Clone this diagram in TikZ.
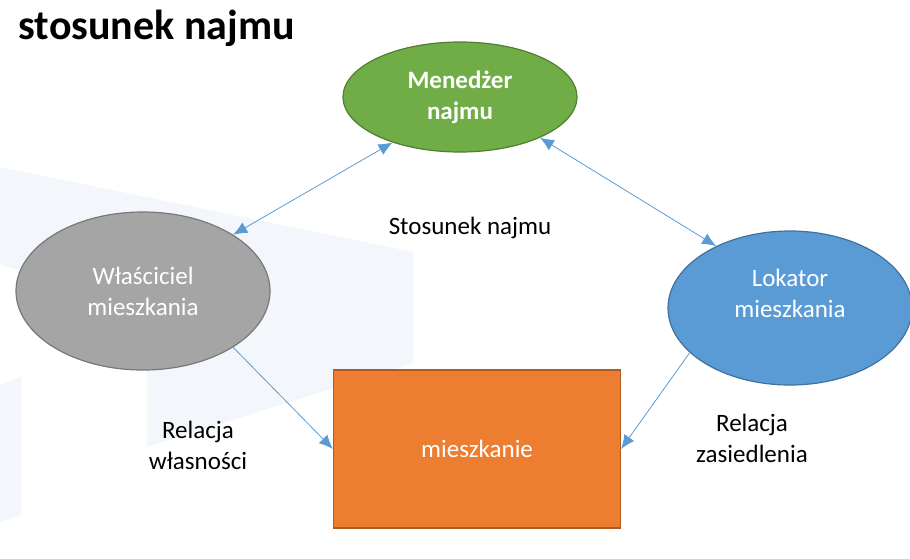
\documentclass[tikz,border=0pt]{standalone}
\usepackage{fontspec}
\setmainfont{Carlito}
\usepackage{tikz}
\usetikzlibrary{shapes,arrows.meta,positioning}
\definecolor{wmark}{HTML}{F3F6FA}
\definecolor{conn}{HTML}{5B9BD5}
\tikzset{>=latex,
  role/.style={ellipse,draw,line width=1.2pt,text=white,align=center,font=\fontsize{25}{31}\selectfont},
  rel/.style={conn,line width=0.8pt,>={Latex[length=14pt,width=12pt]}},
  lbl/.style={align=center,font=\fontsize{25}{31}\selectfont}}

\begin{document}
\begin{tikzpicture}[x=1pt,y=-1pt]
    \useasboundingbox (0,0) rectangle (910,558);
    \fill[wmark] (0,167) -- (413,252) -- (413,363) -- (147,447) -- (147,300) -- (0,265) -- cycle;
    \fill[wmark] (0,385) -- (21,377) -- (21,515) -- (0,522) -- cycle;
    \node[anchor=west,font=\fontsize{42}{48}\selectfont\bfseries] (title) at (15,28) {stosunek najmu};
    \node[role,fill={rgb,255:red,112;green,173;blue,71},draw={rgb,255:red,80;green,126;blue,50},minimum width=234pt,minimum height=110pt,font=\fontsize{25}{31}\selectfont\bfseries] (mgr) at (460,97) {Menedżer\\najmu};
    \node[role,fill={rgb,255:red,165;green,165;blue,165},draw={rgb,255:red,120;green,120;blue,120},minimum width=254pt,minimum height=158pt] (owner) at (143,291) {Właściciel\\mieszkania};
    \node[role,fill=conn,draw={rgb,255:red,65;green,113;blue,156},minimum width=244pt,minimum height=154pt] (tenant) at (790,308) {};
    \node[text=white,lbl] (tenanttxt) at ([yshift=15pt]tenant.center) {Lokator\\mieszkania};
    \node[draw={rgb,255:red,174;green,90;blue,33},line width=1.2pt,fill={rgb,255:red,237;green,125;blue,49},minimum width=287pt,minimum height=158pt,text=white,font=\fontsize{25}{31}\selectfont] (flat) at (477,449) {mieszkanie};
    \draw[rel,<->] (mgr.214) -- (owner.32);
    \draw[rel,<->] (mgr.-27) -- (tenant.140);
    \draw[rel,->] (owner.-32) -- (flat.west);
    \draw[rel,->] (tenant.204) -- (flat.east);
    \node[lbl] (lease) at (470,228) {Stosunek najmu};
    \node[lbl] (own) at (198,445) {Relacja\\własności};
    \node[lbl] (occ) at (752,438) {Relacja\\zasiedlenia};
  \end{tikzpicture}
\end{document}
